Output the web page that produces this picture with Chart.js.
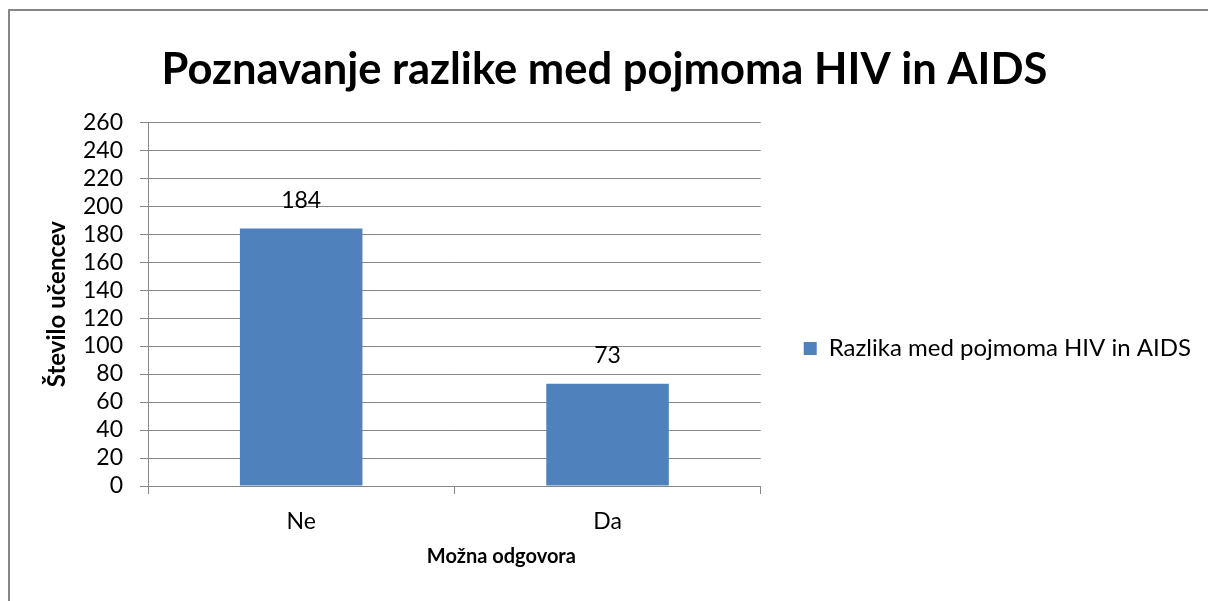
<!DOCTYPE html>
<html>
<head>
<meta charset="utf-8">
<script src="https://cdn.jsdelivr.net/npm/chart.js@4.4.1/dist/chart.umd.min.js"></script>
<style>
  html, body { margin: 0; padding: 0; background: #fff; }
  canvas { display: block; }
</style>
</head>
<body>
<canvas id="chart" width="1208" height="601"></canvas>
<script>
// chart data
const categories = ['Ne', 'Da'];
const answerCounts = [184, 73];
const seriesName = 'Razlika med pojmoma HIV in AIDS';
const chartTitle = 'Poznavanje razlike med pojmoma HIV in AIDS';
const yAxisTitle = 'Število učencev';
const xAxisTitle = 'Možna odgovora';

const FONT = 'Lato, Carlito, Calibri, sans-serif';
const LINE = '#868686';

// grey frame round the whole chart (excel style)
const frame = {
    id: 'frame',
    beforeDraw(chart) {
        const { ctx } = chart;
        ctx.save();
        ctx.fillStyle = '#fff';
        ctx.fillRect(0, 0, chart.width, chart.height);
        ctx.strokeStyle = LINE;
        ctx.lineWidth = 2;
        ctx.strokeRect(9, 10, chart.width + 20, chart.height + 20);
        ctx.restore();
    }
};

// value labels over the bars
const valueLabels = {
    id: 'valueLabels',
    afterDatasetsDraw(chart) {
        const { ctx } = chart;
        const meta = chart.getDatasetMeta(0);
        ctx.save();
        ctx.font = `23px ${FONT}`;
        ctx.fillStyle = '#000';
        ctx.textAlign = 'center';
        ctx.textBaseline = 'middle';
        meta.data.forEach((bar, i) => {
            ctx.fillText(chart.data.datasets[0].data[i], bar.x, bar.y - 28);
        });
        ctx.restore();
    }
};

// excel puts the x axis title a bit right of the plot centre
const xTitle = {
    id: 'xTitle',
    afterDraw(chart) {
        const { ctx, chartArea } = chart;
        ctx.save();
        ctx.font = `bold 20px ${FONT}`;
        ctx.fillStyle = '#000';
        ctx.textAlign = 'center';
        ctx.textBaseline = 'middle';
        ctx.fillText(xAxisTitle, (chartArea.left + chartArea.right) / 2 + 47, chartArea.bottom + 71);
        ctx.restore();
    }
};

new Chart(document.getElementById('chart'), {
    type: 'bar',
    data: {
        labels: categories,
        datasets: [{
            label: seriesName,
            data: answerCounts,
            backgroundColor: '#4F81BD',
            barPercentage: 0.4,
            categoryPercentage: 1.0,
        }]
    },
    options: {
        responsive: false,
        animation: false,
        devicePixelRatio: 1,
        layout: { padding: { left: 8, right: 7, top: 0, bottom: 0 } },
        plugins: {
            title: {
                display: true,
                text: chartTitle,
                color: '#000',
                font: { family: FONT, size: 43.5, weight: 'bold' },
                padding: { top: 44, bottom: 26 },
            },
            legend: {
                position: 'right',
                maxWidth: 446,
                // empty title only pushes the single entry down a bit
                title: { display: true, text: '', font: { size: 10 }, padding: { top: 0, bottom: 84 } },
                labels: {
                    color: '#000',
                    font: { family: FONT, size: 24 },
                    boxWidth: 13,
                    boxHeight: 13,
                    padding: 43,
                }
            },
            tooltip: { enabled: false },
        },
        scales: {
            y: {
                min: 0,
                max: 260,
                afterFit: (s) => { s.width = 140; },
                ticks: {
                    stepSize: 20,
                    autoSkip: false,
                    color: '#000',
                    padding: 17,
                    font: { family: FONT, size: 23 },
                },
                grid: { color: LINE, tickLength: 8 },
                border: { color: LINE },
                title: {
                    display: true,
                    text: yAxisTitle,
                    color: '#000',
                    font: { family: FONT, size: 24, weight: 'bold' },
                    padding: { top: 35, bottom: 0 },
                }
            },
            x: {
                afterFit: (s) => { s.height = 115; },
                ticks: {
                    color: '#000',
                    padding: 14,
                    font: { family: FONT, size: 23 },
                },
                grid: { color: LINE, tickLength: 8, drawOnChartArea: false },
                border: { color: LINE },
                title: { display: false }
            }
        }
    },
    plugins: [frame, valueLabels, xTitle]
});
</script>
</body>
</html>
